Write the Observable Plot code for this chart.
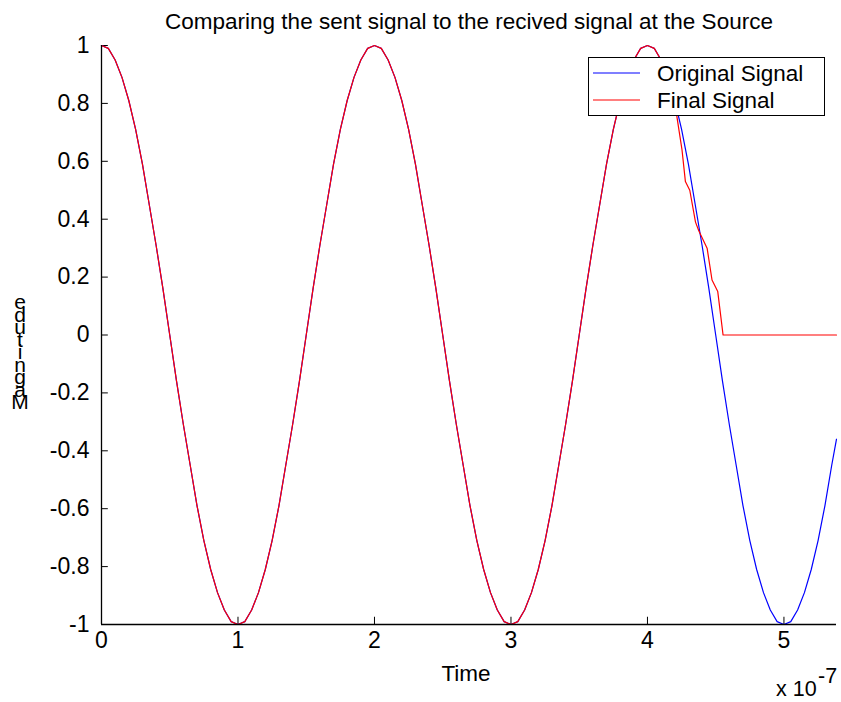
<!DOCTYPE html>
<html>
<head>
<meta charset="utf-8">
<script src="https://cdn.jsdelivr.net/npm/d3@7"></script>
<script src="https://cdn.jsdelivr.net/npm/@observablehq/plot@0.6"></script>
<style>
  html, body { margin: 0; padding: 0; background: #fff; }
  svg { display: block; }
</style>
</head>
<body>
<div id="chart"></div>
<script>
// Time in units of 10^-7 s
const time = [
  0, 0.05, 0.1, 0.15, 0.2, 0.25, 0.3, 0.35, 0.4, 0.45, 0.5, 0.55, 0.6, 0.65, 0.7, 0.75, 0.8, 0.85, 0.9, 0.95,
  1, 1.05, 1.1, 1.15, 1.2, 1.25, 1.3, 1.35, 1.4, 1.45, 1.5, 1.55, 1.6, 1.65, 1.7, 1.75, 1.8, 1.85, 1.9, 1.95,
  2, 2.05, 2.1, 2.15, 2.2, 2.25, 2.3, 2.35, 2.4, 2.45, 2.5, 2.55, 2.6, 2.65, 2.7, 2.75, 2.8, 2.85, 2.9, 2.95,
  3, 3.05, 3.1, 3.15, 3.2, 3.25, 3.3, 3.35, 3.4, 3.45, 3.5, 3.55, 3.6, 3.65, 3.7, 3.75, 3.8, 3.85, 3.9, 3.95,
  4, 4.05, 4.1, 4.15, 4.2, 4.25, 4.3, 4.35, 4.4, 4.45, 4.5, 4.55, 4.6, 4.65, 4.7, 4.75, 4.8, 4.85, 4.9, 4.95,
  5, 5.05, 5.1, 5.15, 5.2, 5.25, 5.3, 5.35, 5.385
];
const originalSignal = [
  1.00, 0.99, 0.95, 0.89, 0.81, 0.71, 0.59, 0.45, 0.31, 0.16, 0.00, -0.16, -0.31, -0.45, -0.59, -0.71, -0.81, -0.89, -0.95, -0.99,
  -1.00, -0.99, -0.95, -0.89, -0.81, -0.71, -0.59, -0.45, -0.31, -0.16, 0.00, 0.16, 0.31, 0.45, 0.59, 0.71, 0.81, 0.89, 0.95, 0.99,
  1.00, 0.99, 0.95, 0.89, 0.81, 0.71, 0.59, 0.45, 0.31, 0.16, 0.00, -0.16, -0.31, -0.45, -0.59, -0.71, -0.81, -0.89, -0.95, -0.99,
  -1.00, -0.99, -0.95, -0.89, -0.81, -0.71, -0.59, -0.45, -0.31, -0.16, 0.00, 0.16, 0.31, 0.45, 0.59, 0.71, 0.81, 0.89, 0.95, 0.99,
  1.00, 0.99, 0.95, 0.89, 0.81, 0.71, 0.59, 0.45, 0.31, 0.16, 0.00, -0.16, -0.31, -0.45, -0.59, -0.71, -0.81, -0.89, -0.95, -0.99,
  -1.00, -0.99, -0.95, -0.89, -0.81, -0.71, -0.59, -0.45, -0.36
];
// Final signal: identical to the original up to t = 4.2, then this tail
const finalSplitTime = 4.2;
const finalTailTime = [4.217, 4.253, 4.278, 4.31, 4.352, 4.376, 4.437, 4.473, 4.515, 4.554, 5.385];
const finalTailValue = [0.75, 0.64, 0.53, 0.50, 0.39, 0.36, 0.30, 0.19, 0.15, 0.00, 0.00];

const xTicks = [0, 1, 2, 3, 4, 5];
const yTicks = [-1, -0.8, -0.6, -0.4, -0.2, 0, 0.2, 0.4, 0.6, 0.8, 1];
const titleText = "Comparing the sent signal to the recived signal at the Source";
const xLabel = "Time";
const yLabel = "Magnitude";
const seriesNames = ["Original Signal", "Final Signal"];
const seriesColors = ["#0000ff", "#ff0000"];

const original = time.map((t, i) => ({t, v: originalSignal[i]}));
const final = original.filter(d => d.t <= finalSplitTime)
  .concat(finalTailTime.map((t, i) => ({t, v: finalTailValue[i]})));

const xMax = time[time.length - 1];
const FONT = "'Liberation Sans', Arial, Helvetica, sans-serif";
const FS_TICK = 23;
const FS_TEXT = 22.5;

const chart = Plot.plot({
  width: 841,
  height: 702,
  marginLeft: 101,
  marginRight: 5,
  marginTop: 45,
  marginBottom: 78,
  x: {domain: [0, xMax]},
  y: {domain: [-1, 1]},
  style: {fontFamily: FONT, fontSize: FS_TICK + "px", background: "#fff", color: "#000", overflow: "visible"},
  marks: [
    Plot.axisY(yTicks, {tickSize: 0, tickPadding: 12, label: null, fontSize: FS_TICK,
      tickFormat: d => String(+d.toFixed(1))}),
    Plot.axisX(xTicks, {tickSize: 0, tickPadding: 7, label: null, fontSize: FS_TICK,
      tickFormat: d => String(d)}),
    Plot.ruleY(yTicks, {x1: 0, x2: 0.05, stroke: "#000", strokeWidth: 1}),
    Plot.ruleX(xTicks, {y1: -1, y2: -0.975, stroke: "#000", strokeWidth: 1}),
    Plot.line(original, {x: "t", y: "v", stroke: seriesColors[0], strokeWidth: 1.2}),
    Plot.line(final, {x: "t", y: "v", stroke: seriesColors[1], strokeWidth: 1.2}),
    Plot.ruleX([0], {y1: -1, y2: 1, stroke: "#000", strokeWidth: 1.3}),
    Plot.ruleY([-1], {x1: 0, x2: xMax, stroke: "#000", strokeWidth: 1.3})
  ]
});
document.getElementById("chart").appendChild(chart);

const svg = d3.select(chart);
const txt = (x, y, s, anchor = "start", fs = FS_TEXT) => svg.append("text")
  .attr("x", x).attr("y", y).attr("text-anchor", anchor)
  .attr("font-family", FONT).attr("font-size", fs).attr("fill", "#000").text(s);

// title
txt(469, 29, titleText, "middle");
// x label
txt(466, 681, xLabel, "middle");
// exponent
txt(776, 696, "x 10", "start", 21.5);
txt(818, 683, "-7", "start", 21.5);
// y label: stacked characters, bottom-up
yLabel.split("").forEach((c, i) => {
  txt(20, 409 - i * 12.5, c, "middle", 21);
});

// legend
const lg = svg.append("g");
lg.append("rect").attr("x", 588.5).attr("y", 57.5).attr("width", 236).attr("height", 58)
  .attr("fill", "#fff").attr("stroke", "#000").attr("stroke-width", 1);
seriesNames.forEach((name, i) => {
  const y = 73 + i * 27;
  lg.append("line").attr("x1", 593).attr("x2", 640).attr("y1", y).attr("y2", y)
    .attr("stroke", seriesColors[i]).attr("stroke-width", 1.2);
  lg.append("text").attr("x", 657).attr("y", y + 8).attr("text-anchor", "start")
    .attr("font-family", FONT).attr("font-size", 22.5).attr("fill", "#000").text(name);
});
</script>
</body>
</html>
